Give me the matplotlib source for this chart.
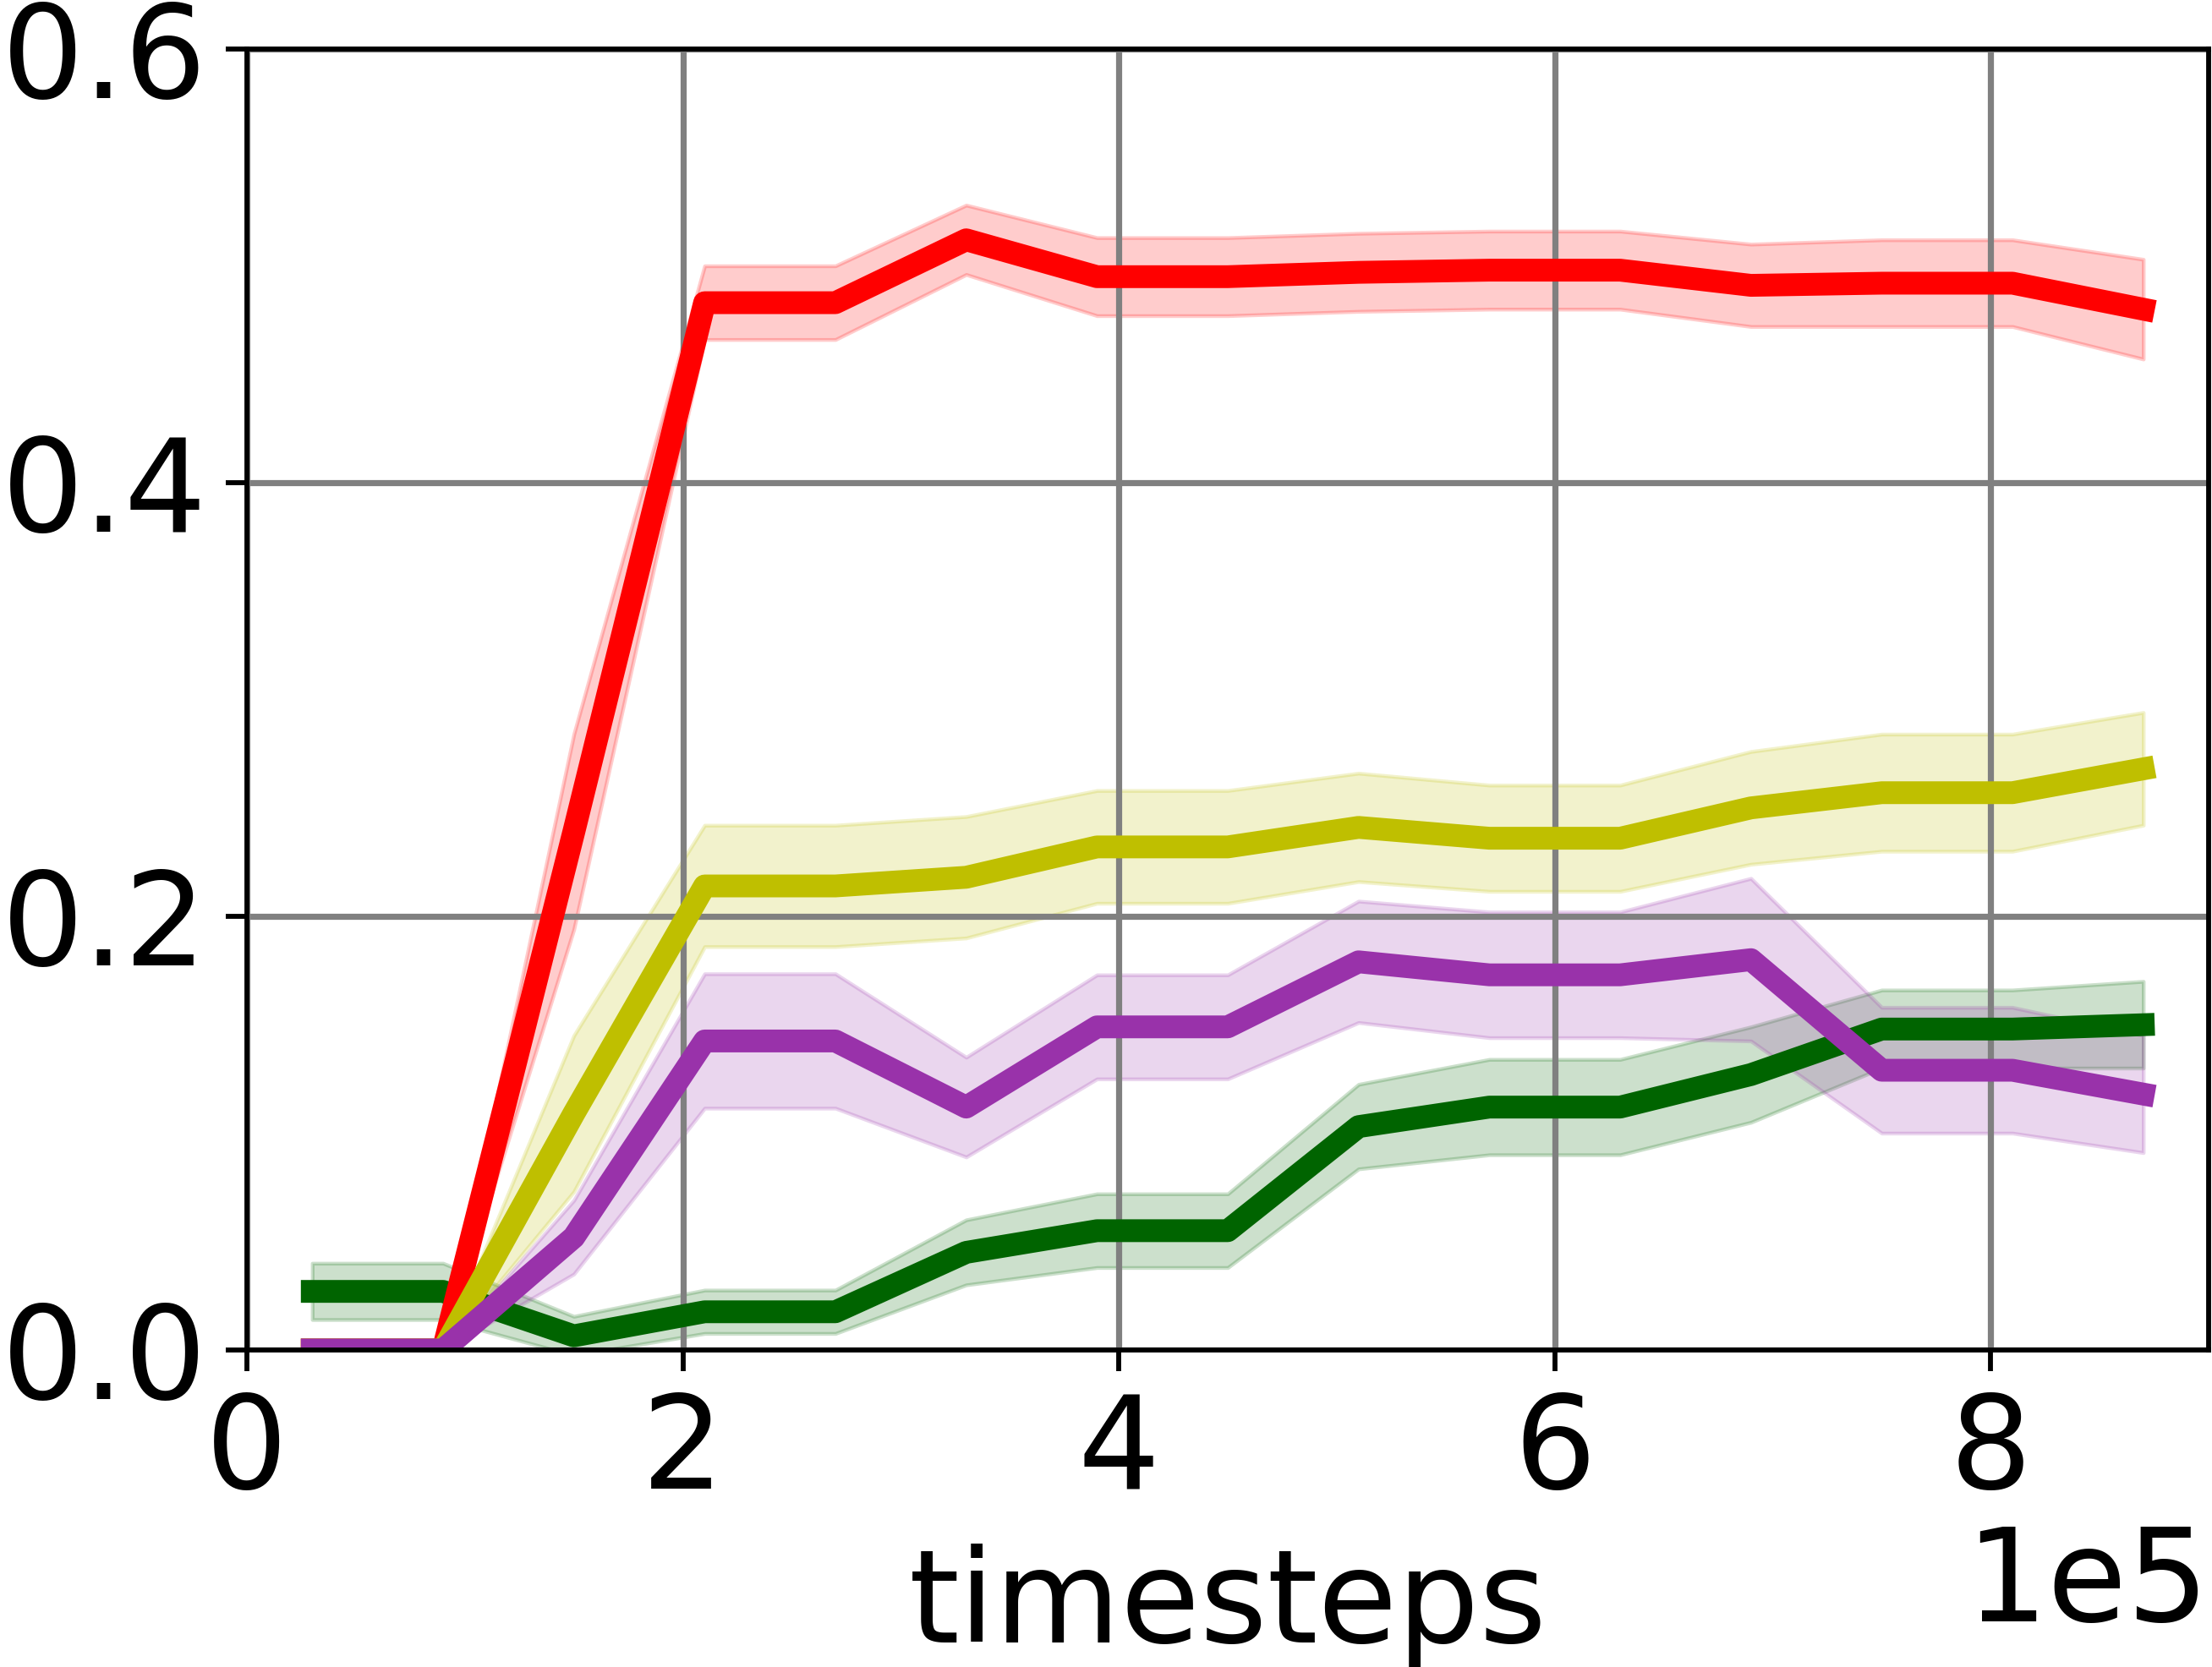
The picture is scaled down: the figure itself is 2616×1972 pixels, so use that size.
import numpy as np
import matplotlib as mpl
import matplotlib.pyplot as plt

# timesteps (x 1e5 in the plot)
steps = [30000, 90000, 150000, 210000, 270000, 330000, 390000, 450000,
         510000, 570000, 630000, 690000, 750000, 810000, 870000]

green_mean = [0.027, 0.027, 0.0065, 0.0176, 0.0176, 0.045, 0.055, 0.055,
              0.103, 0.112, 0.112, 0.127, 0.148, 0.148, 0.150]
green_std = [0.013, 0.013, 0.009, 0.010, 0.010, 0.015, 0.017, 0.017,
             0.0195, 0.022, 0.022, 0.022, 0.018, 0.018, 0.020]

red_mean = [0.0, 0.0, 0.239, 0.483, 0.483, 0.512, 0.495, 0.495,
            0.497, 0.498, 0.498, 0.491, 0.492, 0.492, 0.480]
red_std = [0.0, 0.0, 0.045, 0.017, 0.017, 0.016, 0.018, 0.018,
           0.018, 0.018, 0.018, 0.019, 0.020, 0.020, 0.023]

yellow_mean = [0.0, 0.0, 0.109, 0.214, 0.214, 0.218, 0.232, 0.232,
               0.241, 0.236, 0.236, 0.250, 0.257, 0.257, 0.268]
yellow_std = [0.0, 0.0, 0.036, 0.028, 0.028, 0.028, 0.026, 0.026,
              0.025, 0.0245, 0.0245, 0.026, 0.027, 0.027, 0.026]

purple_mean = [0.0, 0.0, 0.052, 0.1425, 0.1425, 0.112, 0.149, 0.149,
               0.179, 0.173, 0.173, 0.180, 0.129, 0.129, 0.118]
purple_std = [0.0, 0.0, 0.017, 0.031, 0.031, 0.023, 0.024, 0.024,
              0.028, 0.029, 0.029, 0.0375, 0.029, 0.029, 0.027]

series = [
    (green_mean, green_std, 'darkgreen'),
    (red_mean, red_std, 'red'),
    (yellow_mean, yellow_std, 'y'),
    (purple_mean, purple_std, '#9932aa'),
]

mpl.rcParams['font.family'] = 'DejaVu Sans'
mpl.rcParams['font.size'] = 55

fig = plt.figure(figsize=(13.08, 9.86), dpi=200)
ax = fig.add_axes([0.1116, 0.1902, 0.8869, 0.7804])

x = np.array(steps)
for mean, std, color in series:
    m = np.array(mean)
    s = np.array(std)
    ax.plot(x, m, color=color, linewidth=9.7)
    ax.fill_between(x, m - s, m + s, color=color, alpha=0.2, linewidth=1.6)

ax.set_xlim(0, 900000)
ax.set_ylim(0, 0.6)
ax.set_yticks([0.0, 0.2, 0.4, 0.6])
ax.set_xticks([0, 200000, 400000, 600000, 800000])
ax.ticklabel_format(axis='x', style='sci', scilimits=(0, 0))
ax.grid(True, color='grey', linewidth=2.6)
for sp in ax.spines.values():
    sp.set_linewidth(2.1)
ax.tick_params(length=9, width=2.1, pad=8, labelsize=55)
ax.xaxis.get_offset_text().set_fontsize(55)
ax.set_xlabel('timesteps', fontsize=55, labelpad=12)

fig.savefig('out.png', dpi=200)
